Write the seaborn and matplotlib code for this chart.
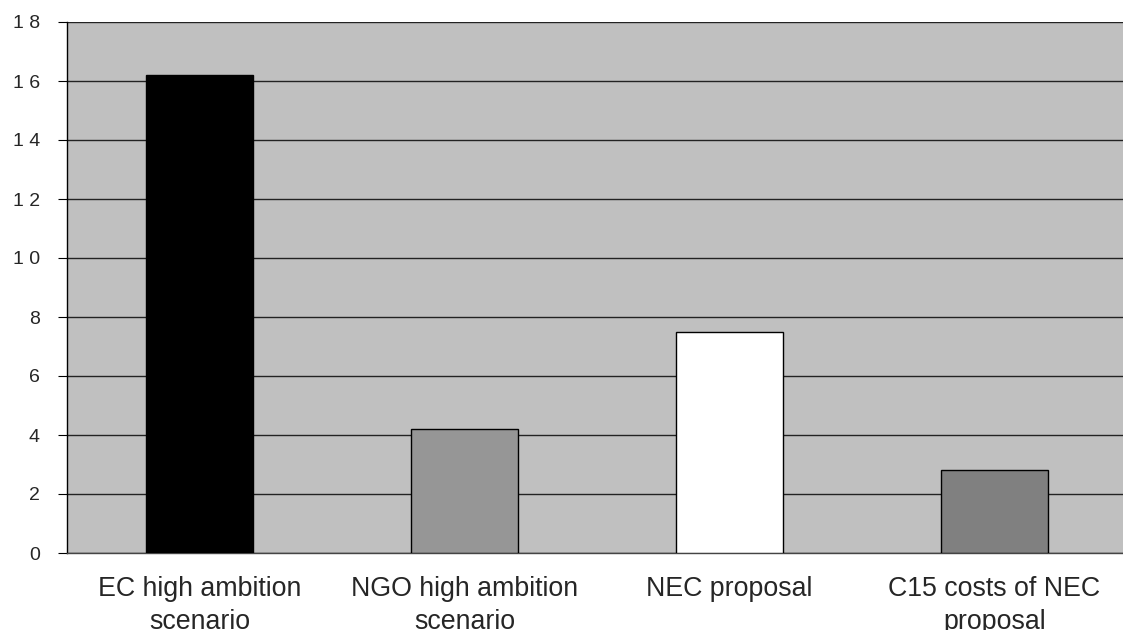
import matplotlib
matplotlib.use("Agg")
import matplotlib.pyplot as plt
import seaborn as sns
import pandas as pd

categories = ["EC high ambition\nscenario", "NGO high ambition\nscenario",
              "NEC proposal", "C15 costs of NEC\nproposal"]
values = [16.2, 4.2, 7.5, 2.8]
bar_colors = ["#000000", "#969696", "#FFFFFF", "#808080"]
y_ticks = [0, 2, 4, 6, 8, 10, 12, 14, 16, 18]
y_tick_labels = ["0", "2", "4", "6", "8", "1 0", "1 2", "1 4", "1 6", "1 8"]

sns.set_style("white")
plt.rcParams["font.family"] = ["Liberation Sans", "DejaVu Sans"]

df = pd.DataFrame({"category": categories, "value": values})

fig = plt.figure(figsize=(11.23, 6.30), dpi=100)
ax = fig.add_axes([67 / 1123, 1 - 553 / 630, 1060 / 1123, 531 / 630])
ax.set_facecolor("#C0C0C0")

sns.barplot(data=df, x="category", y="value", hue="category",
            palette=dict(zip(categories, bar_colors)), legend=False,
            width=0.404, edgecolor="black", linewidth=1.0,
            saturation=1, ax=ax, zorder=3)

ax.set_xlim(-0.5, len(categories) - 0.5)
ax.set_ylim(0, 18)
ax.set_yticks(y_ticks)
ax.set_yticklabels(y_tick_labels, fontsize=14)
ax.yaxis.grid(True, color="#222222", linewidth=1.0, zorder=1)
ax.set_axisbelow(True)

ax.tick_params(axis="y", direction="out", length=6.5, width=0.8,
               color="black", pad=13, left=True)
ax.tick_params(axis="x", length=0, pad=16.5, labelsize=19.3)

for side in ("top", "right"):
    ax.spines[side].set_visible(False)
ax.spines["left"].set_color("black")
ax.spines["left"].set_linewidth(1.0)
ax.spines["bottom"].set_color("#444444")
ax.spines["bottom"].set_linewidth(1.0)

ax.set_xlabel("")
ax.set_ylabel("")
for lbl in ax.get_xticklabels():
    lbl.set_linespacing(1.35)

fig.savefig("out.png", dpi=100)
